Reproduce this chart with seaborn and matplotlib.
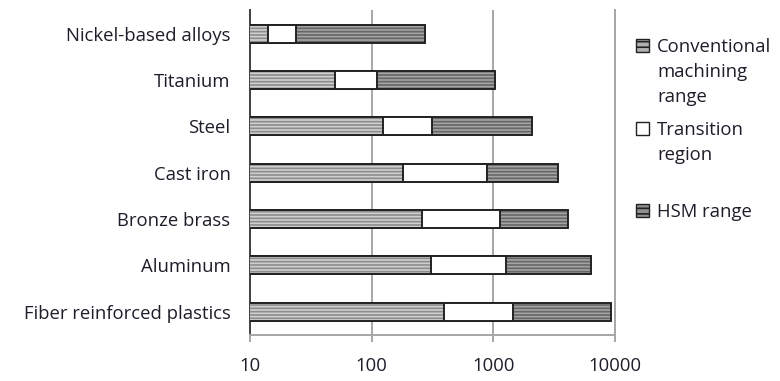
import matplotlib
matplotlib.use("Agg")
import matplotlib.pyplot as plt
from matplotlib.patches import Patch
import seaborn as sns
import pandas as pd

# --- Data (range boundaries) ---
materials = ["Nickel-based alloys", "Titanium", "Steel", "Cast iron",
             "Bronze brass", "Aluminum", "Fiber reinforced plastics"]
conv_end = [14, 50, 125, 180, 260, 305, 390]
trans_end = [24, 110, 315, 890, 1140, 1270, 1450]
hsm_end = [275, 1040, 2080, 3380, 4140, 6300, 9300]
x_ticks = [10, 100, 1000, 10000]

df = pd.DataFrame({"material": materials, "conv": conv_end,
                   "trans": trans_end, "hsm": hsm_end})

sns.set_style("white")
plt.rcParams["font.family"] = ["Open Sans", "DejaVu Sans"]
plt.rcParams["hatch.linewidth"] = 1.2
text_col = "#1e1e2a"
fs = 13.3

fig = plt.figure(figsize=(7.8, 3.81), dpi=100)
ax = fig.add_axes([0.3205, 0.1215, 0.468, 0.851])
ax.set_xscale("log")

bw = 0.39
# --- Bars: overlay cumulative ranges (longest first) ---
sns.barplot(data=df, x="hsm", y="material", orient="h", width=bw, ax=ax,
            color="#a4a4a4", hatch="-----", edgecolor="#666666",
            linewidth=0, saturation=1, zorder=2)
sns.barplot(data=df, x="hsm", y="material", orient="h", width=bw, ax=ax,
            fill=False, edgecolor="#222222", linewidth=1.4, zorder=3)
sns.barplot(data=df, x="trans", y="material", orient="h", width=bw, ax=ax,
            color="white", edgecolor="#222222", linewidth=1.4,
            saturation=1, zorder=4)
sns.barplot(data=df, x="conv", y="material", orient="h", width=bw, ax=ax,
            color="#d0d0d0", hatch="-----", edgecolor="#8c8c8c",
            linewidth=0, saturation=1, zorder=5)
sns.barplot(data=df, x="conv", y="material", orient="h", width=bw, ax=ax,
            fill=False, edgecolor="#222222", linewidth=1.4, zorder=6)

# --- Axes styling ---
ax.set_xlim(10, 10000)
ax.set_ylim(6.5, -0.5)
ax.set_xticks(x_ticks)
ax.set_xticklabels([str(t) for t in x_ticks])
ax.minorticks_off()
ax.set_xlabel("")
ax.set_ylabel("")
ax.xaxis.grid(True, color="#a6a6a6", linewidth=1.4, zorder=0)
ax.set_axisbelow(True)
ax.tick_params(axis="x", which="major", length=5, width=1.4, color="#a6a6a6",
               labelsize=fs, labelcolor=text_col, pad=11, bottom=True)
ax.tick_params(axis="y", length=0, labelsize=fs, labelcolor=text_col, pad=14)
ax.spines["top"].set_visible(False)
ax.spines["left"].set_color("#404040")
ax.spines["left"].set_linewidth(1.4)
for s in ["bottom", "right"]:
    ax.spines[s].set_color("#a6a6a6")
    ax.spines[s].set_linewidth(1.4)

# --- Legend: one block per series, marker on the first text line ---
blank = Patch(facecolor="none", edgecolor="none")
legend_blocks = [
    (Patch(facecolor="#b0b0b0", edgecolor="#222222", hatch="---"),
     ["Conventional", "machining", "range"], 0.8995),
    (Patch(facecolor="white", edgecolor="#222222"),
     ["Transition", "region"], 0.6817),
    (Patch(facecolor="#909090", edgecolor="#222222", hatch="---"),
     ["HSM range"], 0.4664),
]
for handle, lines, ytop in legend_blocks:
    fig.legend([handle] + [blank] * (len(lines) - 1), lines,
               loc="upper left", bbox_to_anchor=(0.815, ytop),
               frameon=False, fontsize=fs, labelcolor=text_col,
               handlelength=0.7, handleheight=0.7, handletextpad=0.45,
               labelspacing=0.38, borderpad=0, borderaxespad=0)

fig.savefig("out.png", dpi=100)
